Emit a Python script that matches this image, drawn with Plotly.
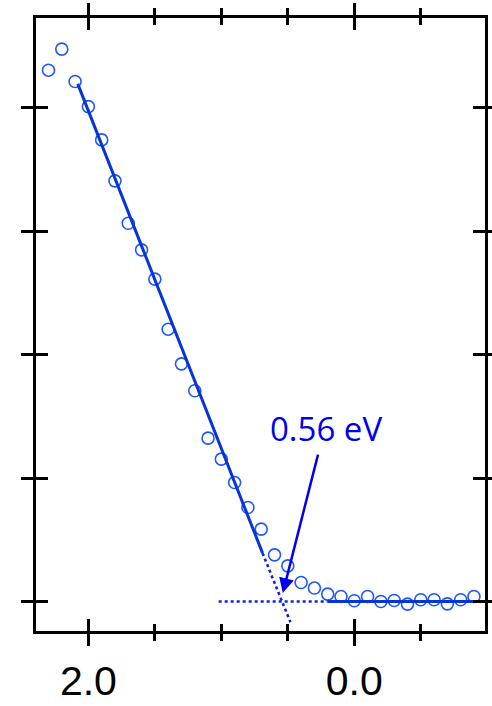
import plotly.graph_objects as go

# Data
energy = [2.3, 2.2, 2.1, 2.0, 1.9, 1.8, 1.7, 1.6, 1.5, 1.4, 1.3, 1.2, 1.1, 1.0, 0.9,
          0.8, 0.7, 0.6, 0.5, 0.4, 0.3, 0.2, 0.1, 0.0, -0.1, -0.2, -0.3, -0.4, -0.5,
          -0.6, -0.7, -0.8, -0.9]
signal = [4.306, 4.477, 4.214, 4.011, 3.741, 3.409, 3.066, 2.850, 2.613, 2.207, 1.926,
          1.708, 1.324, 1.154, 0.964, 0.762, 0.587, 0.378, 0.289, 0.154, 0.109, 0.060,
          0.041, 0.006, 0.041, 0.000, 0.008, -0.021, 0.014, 0.014, -0.019, 0.014, 0.041]

fit_x = [2.08, 0.69]
fit_y = [4.195, 0.392]
fit_ext_x = [0.69, 0.48]
fit_ext_y = [0.392, -0.169]
base_dot_x = [1.02, 0.20]
base_dot_y = [0.0, 0.0]
base_x = [0.20, -0.92]
base_y = [0.0, 0.0]

label_text = "0.56 eV"
label_pos = (0.2125, 1.40)
arrow_tip = (0.538, 0.068)
arrow_tail = (0.27, 1.203)

x_range = [2.394, -0.983]
y_range = [-0.239, 4.729]

fig = go.Figure()
fig.add_trace(go.Scatter(x=energy, y=signal, mode="markers",
                         marker=dict(symbol="circle-open", size=12, color="#1f58f7",
                                     line=dict(width=1.6, color="#1f58f7")),
                         showlegend=False))
fig.add_trace(go.Scatter(x=fit_ext_x, y=fit_ext_y, mode="lines",
                         line=dict(color="#0a1ff0", width=2.6, dash="dot"), showlegend=False))
fig.add_trace(go.Scatter(x=base_dot_x, y=base_dot_y, mode="lines",
                         line=dict(color="#0a1ff0", width=2.6, dash="dot"), showlegend=False))
fig.add_trace(go.Scatter(x=fit_x, y=fit_y, mode="lines",
                         line=dict(color="#0634d6", width=3), showlegend=False))
fig.add_trace(go.Scatter(x=base_x, y=base_y, mode="lines",
                         line=dict(color="#0634d6", width=3), showlegend=False))
# invisible trace on overlay axes to activate them
fig.add_trace(go.Scatter(x=[x_range[0]], y=[y_range[0]], xaxis="x2", yaxis="y2",
                         mode="markers", marker=dict(opacity=0), showlegend=False,
                         hoverinfo="skip"))

fig.add_annotation(x=arrow_tip[0], y=arrow_tip[1], ax=arrow_tail[0], ay=arrow_tail[1],
                   axref="x", ayref="y", xref="x", yref="y", text="", showarrow=True,
                   arrowhead=2, arrowsize=1.2, arrowwidth=2.5, arrowcolor="#0000f0")
fig.add_annotation(x=label_pos[0], y=label_pos[1], xref="x", yref="y", text=label_text,
                   showarrow=False, xanchor="center", yanchor="middle",
                   font=dict(family="Open Sans", size=33, color="#0000ee"))

common_x = dict(range=x_range, tick0=0, dtick=2, showline=True, linewidth=3,
                linecolor="black", mirror="allticks", ticklen=12, tickwidth=3,
                tickcolor="black", showgrid=False, zeroline=False, automargin=False)
common_y = dict(range=y_range, tick0=0, dtick=1, showline=True, linewidth=3,
                linecolor="black", mirror="allticks", ticklen=12, tickwidth=3,
                tickcolor="black", showgrid=False, zeroline=False, showticklabels=False,
                automargin=False)

fig.update_layout(
    width=492, height=706,
    margin=dict(l=35.5, r=6.8, t=18.2, b=74.8, autoexpand=False),
    paper_bgcolor="white", plot_bgcolor="white",
    xaxis=dict(**common_x, ticks="outside", tickformat=".1f",
               tickfont=dict(family="Liberation Sans", size=41, color="black"),
               minor=dict(dtick=0.5, tick0=0, ticks="outside", ticklen=7, tickwidth=3,
                          tickcolor="black", showgrid=False)),
    yaxis=dict(**common_y, ticks="outside"),
    xaxis2=dict(**common_x, ticks="inside", overlaying="x", showticklabels=False,
                minor=dict(dtick=0.5, tick0=0, ticks="inside", ticklen=7, tickwidth=3,
                           tickcolor="black", showgrid=False)),
    yaxis2=dict(**common_y, ticks="inside", overlaying="y"),
)

fig.write_html("out.html")
